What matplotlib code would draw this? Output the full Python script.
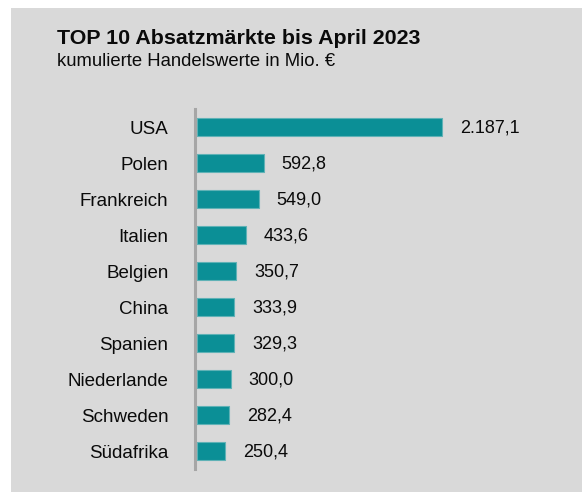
import matplotlib
matplotlib.use("Agg")
from matplotlib import pyplot as plt
from matplotlib.patches import Rectangle

countries = ["USA", "Polen", "Frankreich", "Italien", "Belgien", "China",
             "Spanien", "Niederlande", "Schweden", "Südafrika"]
values = [2187.1, 592.8, 549.0, 433.6, 350.7, 333.9, 329.3, 300.0, 282.4, 250.4]
value_labels = ["2.187,1", "592,8", "549,0", "433,6", "350,7", "333,9",
                "329,3", "300,0", "282,4", "250,4"]

title = "TOP 10 Absatzmärkte bis April 2023"
subtitle = "kumulierte Handelswerte in Mio. €"


def main():
    plt.rcParams['font.family'] = ['Liberation Sans', 'DejaVu Sans']
    W, H = 582, 492
    fig = plt.figure(figsize=(W / 100, H / 100), dpi=100)
    fig.patch.set_facecolor("white")

    # grey panel behind everything
    fig.patches.append(Rectangle((11 / W, 0), 1 - 11 / W, (H - 8) / H,
                                 transform=fig.transFigure, facecolor="#d9d9d9",
                                 edgecolor="none", zorder=-5))

    fig.text(57 / W, 1 - 39 / H, title, fontsize=15.4, fontweight="bold",
             va="center", ha="left", color="#0a0a0a")
    fig.text(57 / W, 1 - 62 / H, subtitle, fontsize=13.3, va="center",
             ha="left", color="#0a0a0a")

    ax = fig.add_axes([197 / W, 23 / H, 363 / W, 360 / H])
    ax.set_facecolor("none")
    pos = list(range(len(countries)))
    ax.barh(pos, values, height=0.5, color="#0b8f96", edgecolor="#5fb2b6",
            linewidth=0.8)
    for p, v, lab in zip(pos, values, value_labels):
        ax.annotate(lab, (v, p), xytext=(13, -0.5), textcoords="offset points",
                    va="center", ha="left", fontsize=13, color="#0a0a0a")

    ax.set_xlim(0, 3235)
    ax.set_ylim(len(countries) - 0.5, -0.5)
    ax.set_yticks(pos)
    ax.set_yticklabels(countries)
    ax.set_xticks([])
    ax.tick_params(axis="y", length=0, pad=19, labelsize=13.5, labelcolor="#0a0a0a")
    for s in ["top", "right", "bottom"]:
        ax.spines[s].set_visible(False)
    ax.spines["left"].set_position(("outward", 1.5))
    ax.spines["left"].set_color("#a6a6a6")
    ax.spines["left"].set_linewidth(2.2)

    fig.savefig("out.png", dpi=100)


if __name__ == "__main__":
    main()
